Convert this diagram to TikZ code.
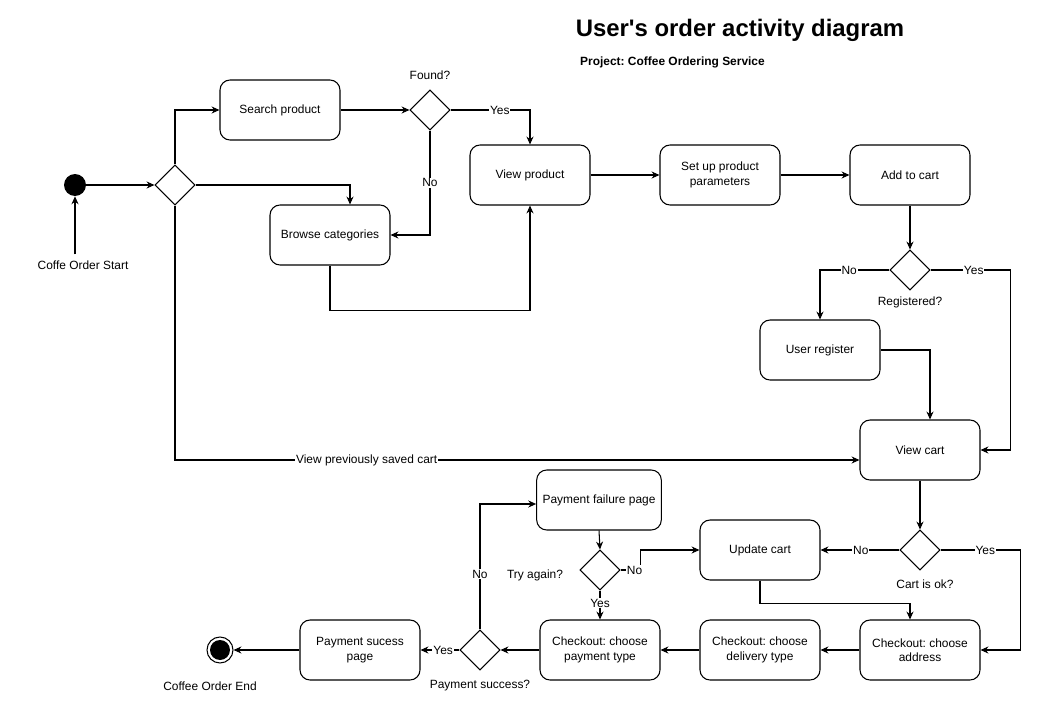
\documentclass[tikz,border=0pt]{standalone}
\usepackage{fontspec}
\setmainfont{Liberation Sans}
\frenchspacing
\usetikzlibrary{positioning, shapes.geometric, arrows.meta, calc}
\tikzset{
    act/.style={rectangle, rounded corners=0.2cm, draw=black, line width=0.6pt, minimum width=2.4cm, minimum height=1.2cm, align=center, font=\fontsize{6.8}{8.2}\selectfont},
    dec/.style={diamond, draw=black, line width=0.6pt, minimum width=0.8cm, minimum height=0.8cm, inner sep=0pt, aspect=1},
    initial/.style={circle, fill=black, minimum size=0.44cm, inner sep=0pt},
    final/.style={circle, draw=black, line width=0.6pt, minimum size=0.52cm, inner sep=0pt, path picture={\fill[black] (path picture bounding box.center) circle (0.2cm);}},
    lbl/.style={font=\fontsize{6.8}{8.2}\selectfont},
    guard/.style={fill=white, inner sep=0.5pt, font=\fontsize{6.8}{8.2}\selectfont},
    flow/.style={-{Stealth[length=4.5pt,width=4pt]}, line width=0.6pt},
}
\begin{document}
\begin{tikzpicture}[x=0.02cm, y=-0.02cm]
    \useasboundingbox (0,0) rectangle (1039,710);
    % titles
    \node [font=\fontsize{13.6}{16}\selectfont\bfseries] (title) at (740,30) {User\textquotesingle s order activity diagram};
    \node [anchor=west, font=\fontsize{6.8}{8.2}\selectfont\bfseries] (project) at (574,62) {Project: Coffee Ordering Service};
    % start
    \node [initial] (start) at (75,185) {};
    \node [lbl] (startlbl) at (83,265) {Coffe Order Start};
    \node [dec] (split) at (175,185) {};
    % browsing
    \node [act] (search) at (280,110) {Search product};
    \node [dec] (found) at (430,110) {};
    \node [lbl] (foundlbl) at (430,75) {Found?};
    \node [act] (browse) at (330,235) {Browse categories};
    \node [act] (viewprod) at (530,175) {View product};
    \node [act] (setup) at (720,175) {Set up product\\parameters};
    \node [act] (addcart) at (910,175) {Add to cart};
    % registration
    \node [dec] (registered) at (910,270) {};
    \node [lbl] (registeredlbl) at (910,302) {Registered?};
    \node [act] (userreg) at (820,350) {User register};
    \node [act] (viewcart) at (920,450) {View cart};
    % cart check
    \node [dec] (cartok) at (920,550) {};
    \node [lbl] (cartoklbl) at (925,584) {Cart is ok?};
    \node [act] (updcart) at (760,550) {Update cart};
    % checkout
    \node [act] (address) at (920,650) {Checkout: choose\\address};
    \node [act] (delivery) at (760,650) {Checkout: choose\\delivery type};
    \node [act] (paytype) at (600,650) {Checkout: choose\\payment type};
    \node [dec] (paysucc) at (480,650) {};
    \node [lbl] (paysucclbl) at (480,686) {Payment success?};
    \node [act] (sucpage) at (360,650) {Payment sucess\\page};
    \node [act] (failpage) at (599,500) {Payment failure page};
    \node [dec] (tryagain) at (600,570) {};
    \node [lbl] (tryagainlbl) at (535,575) {Try again?};
    % end
    \node [final] (end) at (220,650) {};
    \node [lbl] (endlbl) at (210,686) {Coffee Order End};

    \draw[flow] (startlbl.north -| start) -- (start);
    \draw[flow] (start) -- (split);
    \draw[flow] (split.north) |- (search.west);
    \draw[flow] (split.east) -| ($(browse.north)+(20,0)$);
    \draw[flow] (split.south) |- node[guard, pos=0.64] {View previously saved cart} ($(viewcart.west)+(0,10)$);
    \draw[flow] (search) -- (found);
    \draw[flow] (found.east) -| node[guard, pos=0.31] {Yes} (viewprod.north);
    \draw[flow] (found.south) |- node[guard, pos=0.25] {No} (browse.east);
    \draw[flow] (browse.south) -- ++(0,45) -| (viewprod.south);
    \draw[flow] (viewprod) -- (setup);
    \draw[flow] (setup) -- (addcart);
    \draw[flow] (addcart) -- (registered);
    \draw[flow] (registered.west) -| node[guard, pos=0.29] {No} (userreg.north);
    \draw[flow] (registered.east) -- node[guard, pos=0.54] {Yes} ++(80,0) |- (viewcart.east);
    \draw[flow] (userreg.east) -| ($(viewcart.north)+(10,0)$);
    \draw[flow] (viewcart) -- (cartok);
    \draw[flow] (cartok) -- node[guard, pos=0.49] {No} (updcart);
    \draw[flow] (cartok.east) -- node[guard, pos=0.56] {Yes} ++(80,0) |- (address.east);
    \draw[flow] (updcart.south) -- ++(0,23) -| ($(address.north)+(-10,0)$);
    \draw[flow] (address) -- (delivery);
    \draw[flow] (delivery) -- (paytype);
    \draw[flow] (paytype) -- (paysucc);
    \draw[flow] (paysucc) -- node[guard, pos=0.42] {Yes} (sucpage);
    \draw[flow] (sucpage) -- (end);
    \draw[flow] (paysucc.north) |- node[guard, pos=0.22] {No} ($(failpage.west)+(0,4)$);
    \draw[flow] (failpage.south) -- (tryagain.north);
    \draw[flow] (tryagain.east) -- node[guard, pos=0.7] {No} ++(20,0) |- (updcart.west);
    \draw[flow] (tryagain.south) -- node[guard, pos=0.43] {Yes} (paytype.north);
\end{tikzpicture}
\end{document}
